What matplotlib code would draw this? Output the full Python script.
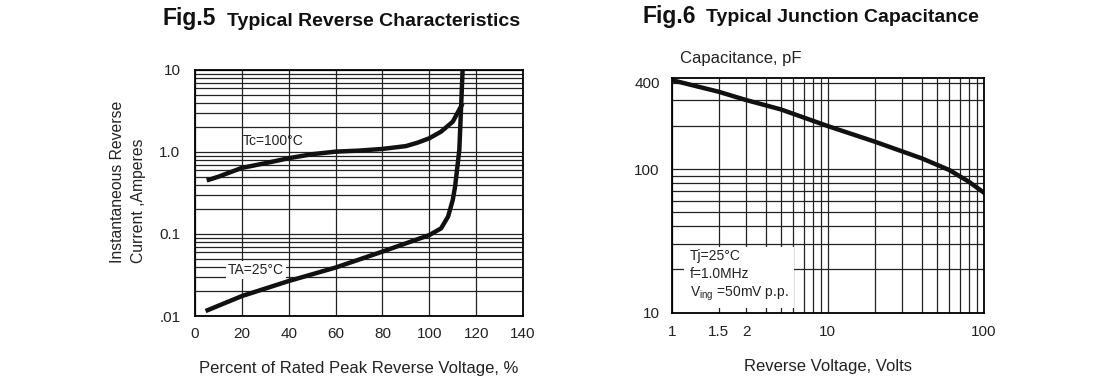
import matplotlib
matplotlib.use("Agg")
import matplotlib.pyplot as plt
from matplotlib.ticker import FixedLocator, LogLocator, NullFormatter

plt.rcParams['font.family'] = ['Liberation Sans Narrow', 'Liberation Sans', 'DejaVu Sans']
plt.rcParams['mathtext.fontset'] = 'custom'
plt.rcParams['mathtext.rm'] = 'Liberation Sans'

# Fig.5 data
pct_ticks = [0, 20, 40, 60, 80, 100, 120, 140]
tc100_x = [5, 10, 20, 30, 40, 50, 60, 70, 80, 90, 95, 100, 105, 110, 114.2]
tc100_y = [0.45, 0.5, 0.64, 0.73, 0.84, 0.94, 1.01, 1.04, 1.09, 1.18, 1.3, 1.47, 1.77, 2.34, 3.9]
ta25_x = [4.5, 20, 40, 60, 80, 100, 105, 108, 110, 111, 112.8, 113.5, 114.2]
ta25_y = [0.0115, 0.0175, 0.0267, 0.039, 0.061, 0.097, 0.117, 0.163, 0.26, 0.38, 1.06, 3.2, 10]
cur_ticks = [0.01, 0.1, 1.0, 10]
cur_labels = ['.01', '0.1', '1.0', '10']

# Fig.6 data
volt_x = [1, 2, 3, 5, 10, 20, 40, 60, 80, 100]
cap_y = [416, 345, 302, 260, 199, 155, 118.6, 98.4, 81.6, 68.4]
volt_ticks = [1, 2, 3, 10, 100]
volt_labels = ['1', '1.5', '2', '10', '100']
cap_ticks = [10, 100, 400]
cap_labels = ['10', '100', '400']

txt = '#222222'
fig = plt.figure(figsize=(11, 3.81), dpi=100)

# ---- Fig.5 ----
ax1 = fig.add_axes([0.1773, 0.1706, 0.2982, 0.6457])
ax1.set_yscale('log')
ax1.set_xlim(0, 140)
ax1.set_ylim(0.01, 10)
ax1.set_xticks(pct_ticks)
ax1.set_yticks(cur_ticks)
ax1.set_yticklabels(cur_labels)
ax1.yaxis.set_minor_locator(LogLocator(base=10, subs=range(2, 10)))
ax1.yaxis.set_minor_formatter(NullFormatter())
ax1.grid(True, which='both', color='#222222', lw=0.9)
ax1.tick_params(which='both', length=0, labelsize=11, labelcolor=txt)
ax1.tick_params(axis='y', pad=10.5)
ax1.tick_params(axis='x', pad=8)
for s in ax1.spines.values():
    s.set_linewidth(1.3)
ax1.plot(tc100_x, tc100_y, color='#111111', lw=3.2, solid_capstyle='butt')
ax1.plot(ta25_x, ta25_y, color='#111111', lw=3.2, solid_capstyle='butt')
ax1.text(20.5, 1.36, 'Tc=100°C', fontsize=10, color=txt, va='center')
ax1.text(14, 0.0365, 'TA=25°C', fontsize=10, color=txt, va='center',
         bbox=dict(facecolor='white', edgecolor='none', pad=1.5))
ax1.set_xlabel('Percent of Rated Peak Reverse Voltage, %', fontsize=12, color=txt, labelpad=14)
fig.text(128 / 1100, 1 - 182 / 381, 'Instantaneous Reverse\nCurrent ,Amperes', fontsize=11.3,
         color=txt, rotation=90, ha='center', va='center', multialignment='left',
         linespacing=1.45)
fig.text(163 / 1100, 1 - 19 / 381, 'Fig.5', fontsize=16.5, fontweight='bold',
         family='Liberation Sans', va='center', color='#111111')
fig.text(227 / 1100, 1 - 22 / 381, 'Typical Reverse Characteristics', fontsize=14,
         fontweight='bold', family='Liberation Sans', va='center', color='#111111')

# ---- Fig.6 ----
ax2 = fig.add_axes([0.6106, 0.1793, 0.2839, 0.6152])
ax2.set_xscale('log')
ax2.set_yscale('log')
ax2.set_xlim(1, 100)
ax2.set_ylim(10, 428)
ax2.xaxis.set_major_locator(FixedLocator(volt_ticks))
ax2.set_xticklabels(volt_labels)
ax2.xaxis.set_minor_locator(LogLocator(base=10, subs=range(2, 10)))
ax2.xaxis.set_minor_formatter(NullFormatter())
ax2.yaxis.set_major_locator(FixedLocator(cap_ticks))
ax2.set_yticklabels(cap_labels)
ax2.yaxis.set_minor_locator(FixedLocator([20, 30, 40, 50, 60, 70, 80, 90, 200, 300]))
ax2.yaxis.set_minor_formatter(NullFormatter())
ax2.grid(True, which='both', color='#222222', lw=0.9)
ax2.tick_params(which='both', length=0, labelsize=11, labelcolor=txt)
ax2.tick_params(axis='y', pad=8.5)
ax2.tick_params(axis='x', pad=9)
for s in ax2.spines.values():
    s.set_linewidth(1.3)
ax2.plot(volt_x, cap_y, color='#111111', lw=3.2)
ax2.text(1.31, 18.0, 'Tj=25°C\nf=1.0MHz\nV$_{\\mathregular{ing}}$ =50mV p.p.', fontsize=10,
         color=txt, va='center', linespacing=1.3,
         bbox=dict(facecolor='white', edgecolor='none', pad=4))
ax2.set_xlabel('Reverse Voltage, Volts', fontsize=12, color=txt, labelpad=14)
fig.text(680 / 1100, 1 - 58 / 381, 'Capacitance, pF', fontsize=12, color=txt, va='center')
fig.text(643 / 1100, 1 - 16 / 381, 'Fig.6', fontsize=16.5, fontweight='bold',
         family='Liberation Sans', va='center', color='#111111')
fig.text(706 / 1100, 1 - 18 / 381, 'Typical Junction Capacitance', fontsize=14,
         fontweight='bold', family='Liberation Sans', va='center', color='#111111')

fig.savefig('out.png', dpi=100)
